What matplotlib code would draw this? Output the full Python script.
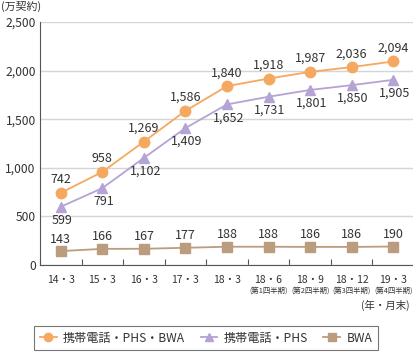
import matplotlib
matplotlib.use('Agg')
import matplotlib.pyplot as plt
import numpy as np

plt.rcParams['font.family'] = ['Noto Sans CJK JP', 'DejaVu Sans']

categories = ['14・3', '15・3', '16・3', '17・3', '18・3', '18・6', '18・9', '18・12', '19・3']
sub_labels = ['', '', '', '', '', '(第1四半期)', '(第2四半期)', '(第3四半期)', '(第4四半期)']
total = [742, 958, 1269, 1586, 1840, 1918, 1987, 2036, 2094]
mobile_phs = [599, 791, 1102, 1409, 1652, 1731, 1801, 1850, 1905]
bwa = [143, 166, 167, 177, 188, 188, 186, 186, 190]

c_total = '#F5A860'
c_phs = '#B5A3D3'
c_bwa = '#BC9C7E'
txt = '#333333'

fig = plt.figure(figsize=(4.14, 3.53), dpi=100)
ax = fig.add_axes([40 / 414, 1 - 265 / 353, 374 / 414, 243 / 353])

x = np.arange(len(categories))
ax.plot(x, total, color=c_total, marker='o', markersize=7.5, lw=1.3, label='携帯電話・PHS・BWA')
ax.plot(x, mobile_phs, color=c_phs, marker='^', markersize=7.5, lw=1.3, label='携帯電話・PHS')
ax.plot(x, bwa, color=c_bwa, marker='s', markersize=6.5, lw=1.3, label='BWA')

for i, v in enumerate(total):
    ax.annotate(f'{v:,}', (i, v), xytext=(0, 5), textcoords='offset points',
                ha='center', va='bottom', fontsize=9, color=txt)
for i, v in enumerate(mobile_phs):
    ax.annotate(f'{v:,}', (i, v), xytext=(1, -5), textcoords='offset points',
                ha='center', va='top', fontsize=9, color=txt)
for i, v in enumerate(bwa):
    ax.annotate(f'{v:,}', (i, v), xytext=(0, 4), textcoords='offset points',
                ha='center', va='bottom', fontsize=9, color=txt)

ax.set_xlim(-0.5, len(categories) - 0.5)
ax.set_ylim(0, 2500)
ax.set_yticks(range(0, 2501, 500))
ax.set_yticklabels([f'{v:,}' for v in range(0, 2501, 500)], fontsize=8.7, color=txt)
ax.yaxis.grid(True, color='#D5D5D5', lw=1)
ax.set_axisbelow(True)
ax.tick_params(axis='y', length=0, pad=3)

ax.set_xticks(np.arange(len(categories) + 1) - 0.5)
ax.set_xticklabels([])
ax.tick_params(axis='x', direction='in', length=4, color='#555555')
for i, (c, s) in enumerate(zip(categories, sub_labels)):
    ax.text(i, -0.04, c, transform=ax.get_xaxis_transform(), ha='center', va='top',
            fontsize=7.5, color=txt)
    if s:
        ax.text(i, -0.09, s, transform=ax.get_xaxis_transform(), ha='center', va='top',
                fontsize=5.3, color=txt)
ax.text(370 / 374, -0.145, '(年・月末)', transform=ax.transAxes, ha='right', va='top',
        fontsize=7.5, color=txt)
fig.text(1 / 414, 1 - 1 / 353, '(万契約)', ha='left', va='top', fontsize=7.8, color=txt)

for sp in ['top', 'right']:
    ax.spines[sp].set_visible(False)
ax.spines['left'].set_color('#555555')
ax.spines['bottom'].set_color('#555555')

leg = fig.legend(loc='center', bbox_to_anchor=(206 / 414, 1 - 338 / 353), ncol=3,
                 fontsize=8.7, frameon=True, fancybox=False, edgecolor='#555555',
                 handlelength=1.4, columnspacing=1.3, handletextpad=0.5,
                 borderpad=0.45, labelcolor=txt, markerscale=0.8)
leg.get_frame().set_linewidth(0.8)

fig.savefig('out.png', dpi=100)
